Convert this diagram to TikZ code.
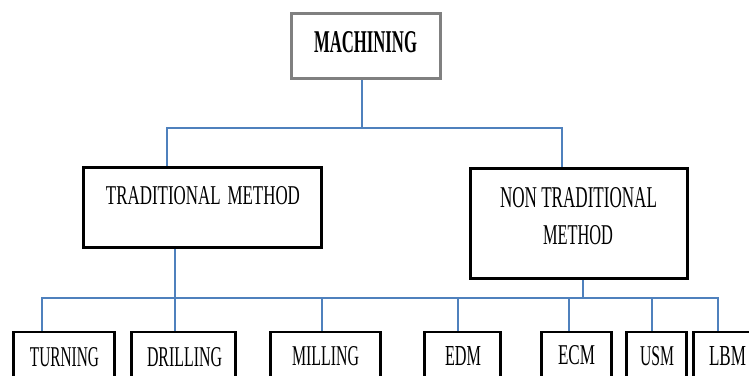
\documentclass[tikz,border=0pt]{standalone}
\usepackage{fontspec}
\usepackage{graphicx}
\setmainfont{Liberation Serif}
\definecolor{conncol}{HTML}{4F81BD}
\definecolor{graybox}{HTML}{808080}
\newcommand\fittext[3]{\resizebox{#1pt}{#2pt}{#3}}
\tikzset{
  box/.style={draw=black, line width=2.6pt, rectangle, inner sep=0pt, fill=white},
  topbox/.style={box, draw=graybox},
  lbl/.style={inner sep=0pt, anchor=center, text=black},
  conn/.style={draw=conncol, line width=1.2pt},
  leafbox/.style={box, anchor=north, minimum height=75pt}
}
\begin{document}
\begin{tikzpicture}[x=1pt,y=-1pt]
\useasboundingbox (0,0) rectangle (749,375);
\coordinate (busA) at (362,128);
\coordinate (busAL) at (167,128);
\coordinate (busAR) at (562,128);
\coordinate (tB) at (175,298);
\coordinate (nB) at (583,298);
\coordinate (d1) at (42,298);
\coordinate (d2) at (175,298);
\coordinate (d3) at (322,298);
\coordinate (d4) at (458,298);
\coordinate (d5) at (569,298);
\coordinate (d6) at (652,298);
\coordinate (d7) at (718,298);
% boxes
\node[topbox, minimum width=149.5pt, minimum height=65.5pt] (mach) at (366,46) {};
\node[box, minimum width=238.5pt, minimum height=80.5pt] (trad) at (202.5,207.5) {};
\node[box, minimum width=217.5pt, minimum height=110.5pt] (non) at (579,223.5) {};
\node[leafbox, minimum width=101.5pt] (turn) at (64,330.5) {};
\node[leafbox, minimum width=104.5pt] (drill) at (183.5,330.5) {};
\node[leafbox, minimum width=110.5pt] (mill) at (325.5,330.5) {};
\node[leafbox, minimum width=76.5pt] (edm) at (462.5,330.5) {};
\node[leafbox, minimum width=70.5pt] (ecm) at (576.5,330.5) {};
\node[leafbox, minimum width=60.5pt] (usm) at (656.5,330.5) {};
\node[leafbox, minimum width=64.5pt] (lbm) at (726,330.5) {};
% connectors
\draw[conn] (mach.south -| busA) -- (busA);
\draw[conn] (trad.north -| busAL) |- (busAR) -- (non.north -| busAR);
\draw[conn] (trad.south -| tB) -- (tB);
\draw[conn] (non.south -| nB) -- (nB);
\draw[conn] (turn.north -| d1) |- (d7) -- (lbm.north -| d7);
\draw[conn] (drill.north -| d2) -- (d2);
\draw[conn] (mill.north -| d3) -- (d3);
\draw[conn] (edm.north -| d4) -- (d4);
\draw[conn] (ecm.north -| d5) -- (d5);
\draw[conn] (usm.north -| d6) -- (d6);
% labels
\node[lbl] (tmach) at (365.5,42.5) {\fittext{103}{21}{\bfseries MACHINING}};
\node[lbl] (ttrad) at (203,196) {\fittext{194}{18}{TRADITIONAL\hspace{0.15em} METHOD}};
\node[lbl] (tnon1) at (578.5,198) {\fittext{157}{20}{NON TRADITIONAL}};
\node[lbl] (tnon2) at (578,235.5) {\fittext{70}{19}{METHOD}};
\node[lbl] (tturn) at (64.5,357.5) {\fittext{69}{19}{TURNING}};
\node[lbl] (tdrill) at (184.5,357.5) {\fittext{75}{19}{DRILLING}};
\node[lbl] (tmill) at (325.5,356.5) {\fittext{67}{19}{MILLING}};
\node[lbl] (tedm) at (463,356.5) {\fittext{36}{19}{EDM}};
\node[lbl] (tecm) at (576.5,355.5) {\fittext{37}{19}{ECM}};
\node[lbl] (tusm) at (657,356.5) {\fittext{34}{19}{USM}};
\node[lbl] (tlbm) at (727.5,356.5) {\fittext{37}{19}{LBM}};
\end{tikzpicture}
\end{document}
